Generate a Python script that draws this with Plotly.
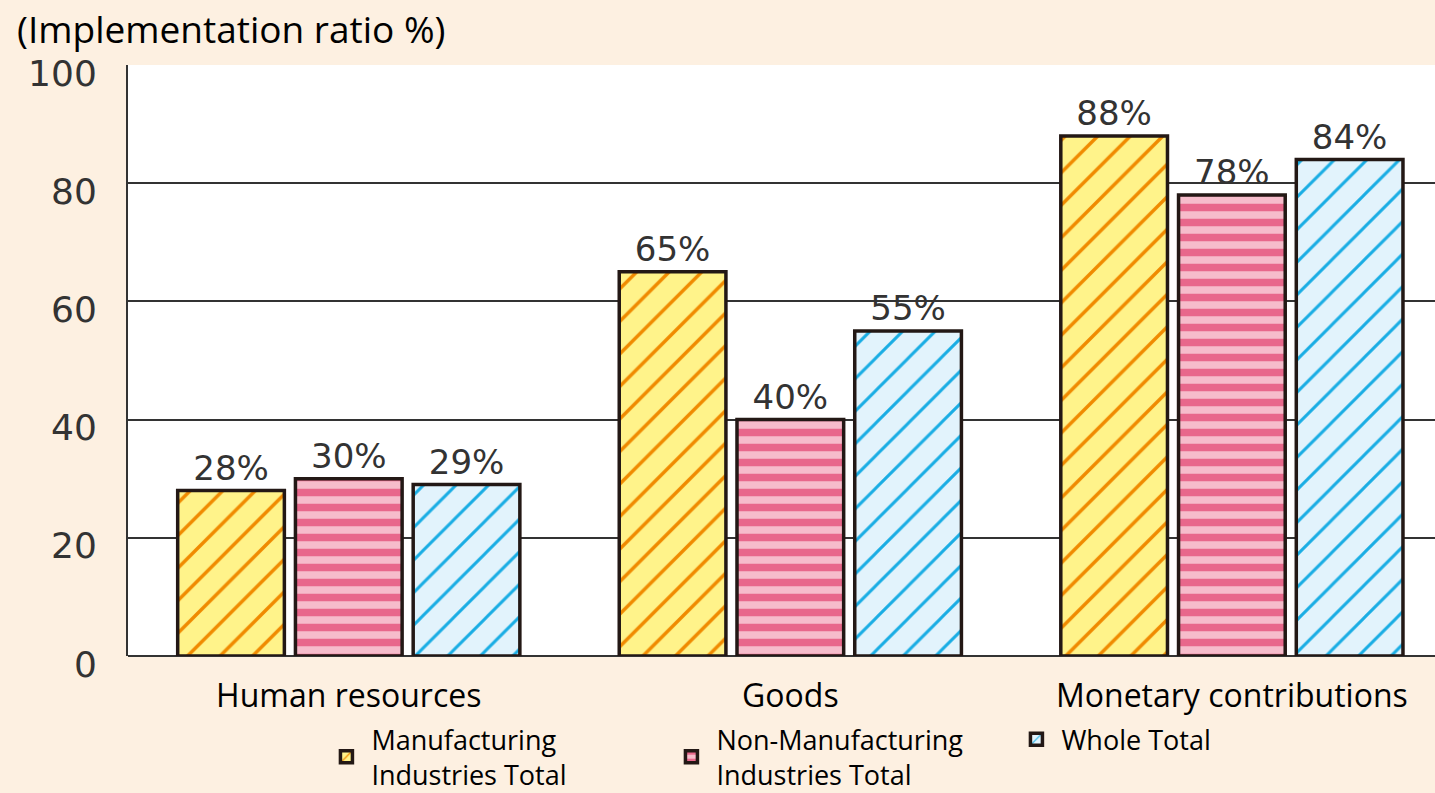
import plotly.graph_objects as go

categories = ["Human resources", "Goods", "Monetary contributions"]
series_names = ["Manufacturing<br>Industries Total", "Non-Manufacturing<br>Industries Total", "Whole Total"]
manufacturing = [28, 65, 88]
non_manufacturing = [30, 40, 78]
whole_total = [29, 55, 84]
y_ticks = [0, 20, 40, 60, 80, 100]

series_values = [manufacturing, non_manufacturing, whole_total]
styles = [
    dict(bg="#fff38a", fg="#f08a00", shape="/", size=23, solidity=0.15),
    dict(bg="#f6bccb", fg="#e8678b", shape="-", size=15, solidity=0.5),
    dict(bg="#e2f3fc", fg="#19ade4", shape="/", size=23, solidity=0.13),
]

fig = go.Figure()
for name, vals, st in zip(series_names, series_values, styles):
    fig.add_trace(go.Bar(
        x=categories, y=vals, name=name,
        marker=dict(
            color=st["bg"],
            line=dict(color="#231815", width=3.5),
            pattern=dict(shape=st["shape"], fgcolor=st["fg"], bgcolor=st["bg"],
                         size=st["size"], solidity=st["solidity"], fillmode="overlay",
                         fgopacity=1),
        ),
        texttemplate="%{y}%", textposition="outside", cliponaxis=False,
        textfont=dict(family="DejaVu Sans", size=34, color="#333333"),
    ))

bg = "#fdf0e1"
fig.update_layout(
    width=1435, height=793,
    barmode="group", bargap=0.2, bargroupgap=0.094,
    paper_bgcolor=bg, plot_bgcolor="white",
    margin=dict(l=128, r=0, t=65, b=137, autoexpand=False),
    showlegend=True,
    legend=dict(orientation="h", x=0.148, y=-0.1, xanchor="left", yanchor="top",
                font=dict(family="Open Sans", size=27, color="black"),
                entrywidth=290, entrywidthmode="pixels", bgcolor="rgba(0,0,0,0)",
                itemwidth=40, valign="middle"),
    font=dict(family="DejaVu Sans", color="#333333"),
    annotations=[dict(text="(Implementation ratio %)", xref="paper", yref="paper",
                      x=-113/1307, y=1.0, xanchor="left", yanchor="bottom", yshift=9,
                      showarrow=False,
                      font=dict(family="Open Sans", size=37, color="black"))],
)
fig.update_yaxes(range=[0, 100], tickvals=y_ticks, showgrid=True, gridcolor="#333333",
                 gridwidth=1.5, zeroline=True, zerolinecolor="#333333", zerolinewidth=2,
                 showline=True, linecolor="#333333", linewidth=2,
                 ticks="", ticklabelstandoff=22, ticklabelshift=8, automargin=False,
                 tickfont=dict(family="DejaVu Sans", size=36, color="#333333"))
fig.update_xaxes(range=[-0.5, 2.46], showline=False, ticks="", automargin=False,
                 ticklabelstandoff=18,
                 tickfont=dict(family="Open Sans", size=32, color="black"))

fig.write_html("out.html")
